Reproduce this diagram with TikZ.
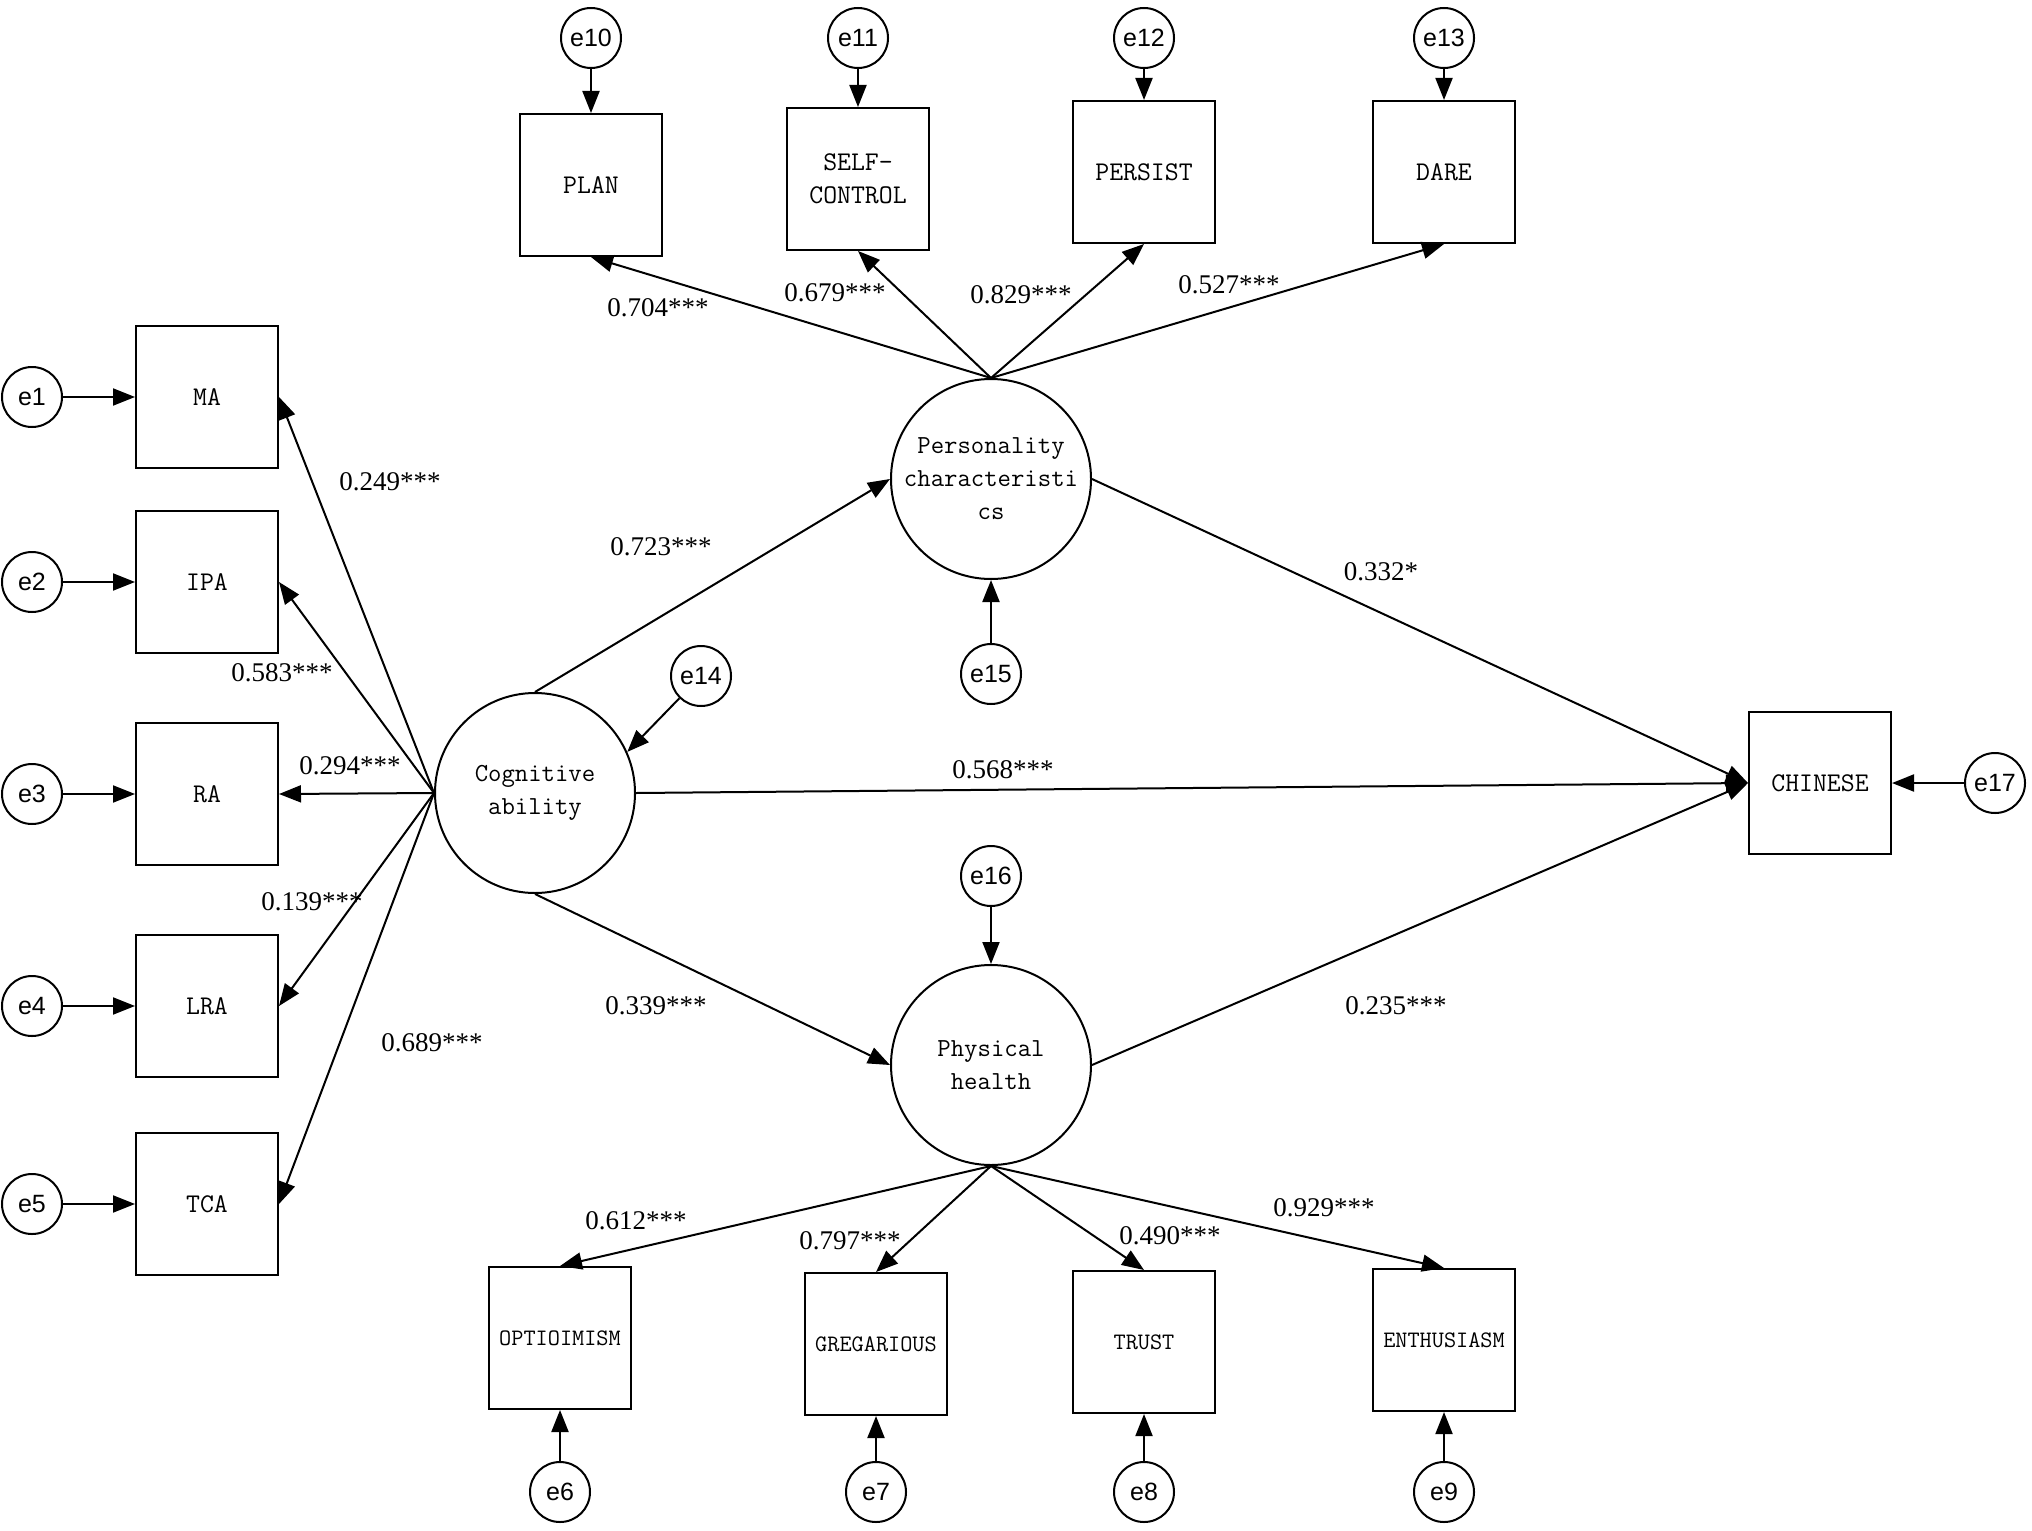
\documentclass[tikz,border=0pt]{standalone}
\usepackage{fontspec}
\usetikzlibrary{arrows.meta}
\newfontfamily\errfont{Liberation Sans}
\newfontfamily\coeffont{Liberation Serif}

\begin{document}
\begin{tikzpicture}[x=0.5pt,y=-0.5pt,
        line width=1pt,>={Triangle[length=11pt,width=8.5pt]},
        obs/.style={draw,rectangle,minimum width=71pt,minimum height=71pt,inner sep=1pt,align=center,font=\fontsize{13.5}{16.5}\selectfont\ttfamily},
        obsnarrow/.style={obs,font=\fontsize{11.8}{14}\selectfont\ttfamily},
        lat/.style={draw,circle,minimum size=100pt,inner sep=0pt,align=center,font=\fontsize{13}{16.5}\selectfont\ttfamily},
        err/.style={draw,circle,minimum size=30pt,inner sep=0pt,font=\fontsize{12.5}{14}\selectfont\errfont},
        coef/.style={inner sep=0pt,font=\fontsize{13.5}{15}\selectfont\coeffont}]

    \useasboundingbox (0,0) rectangle (2032,1530);

    \node[lat] (cog) at (535,793) {Cognitive\\ability};
    \node[lat] (pers) at (991,479) {Personality\\characteristi\\cs};
    \node[lat] (phys) at (991,1065) {Physical\\health};
    \node[obs] (chn) at (1820,783) {CHINESE};

    \node[obs] (ma) at (207,397) {MA};
    \node[obs] (ipa) at (207,582) {IPA};
    \node[obs] (ra) at (207,794) {RA};
    \node[obs] (lra) at (207,1006) {LRA};
    \node[obs] (tca) at (207,1204) {TCA};

    \node[obs] (plan) at (591,185) {PLAN};
    \node[obs] (selfc) at (858,179) {SELF-\\CONTROL};
    \node[obs] (persist) at (1144,172) {PERSIST};
    \node[obs] (dare) at (1444,172) {DARE};

    \node[obsnarrow] (opt) at (560,1338) {OPTIOIMISM};
    \node[obsnarrow] (greg) at (876,1344) {GREGARIOUS};
    \node[obsnarrow] (trust) at (1144,1342) {TRUST};
    \node[obsnarrow] (enth) at (1444,1340) {ENTHUSIASM};

    \node[err] (e1) at (32,397) {e1};
    \node[err] (e2) at (32,582) {e2};
    \node[err] (e3) at (32,794) {e3};
    \node[err] (e4) at (32,1006) {e4};
    \node[err] (e5) at (32,1204) {e5};
    \node[err] (e6) at (560,1492) {e6};
    \node[err] (e7) at (876,1492) {e7};
    \node[err] (e8) at (1144,1492) {e8};
    \node[err] (e9) at (1444,1492) {e9};
    \node[err] (e10) at (591,38) {e10};
    \node[err] (e11) at (858,38) {e11};
    \node[err] (e12) at (1144,38) {e12};
    \node[err] (e13) at (1444,38) {e13};
    \node[err] (e14) at (701,676) {e14};
    \node[err] (e15) at (991,674) {e15};
    \node[err] (e16) at (991,876) {e16};
    \node[err] (e17) at (1995,783) {e17};

    \draw[->] (e1) -- (ma);
    \draw[->] (e2) -- (ipa);
    \draw[->] (e3) -- (ra);
    \draw[->] (e4) -- (lra);
    \draw[->] (e5) -- (tca);
    \draw[->] (e6) -- (opt);
    \draw[->] (e7) -- (greg);
    \draw[->] (e8) -- (trust);
    \draw[->] (e9) -- (enth);
    \draw[->] (e10) -- (plan);
    \draw[->] (e11) -- (selfc);
    \draw[->] (e12) -- (persist);
    \draw[->] (e13) -- (dare);
    \draw[->] (e14) -- (cog.24);
    \draw[->] (e15) -- (pers);
    \draw[->] (e16) -- (phys);
    \draw[->] (e17) -- (chn);

    \draw[->] (cog.west) -- (ma.east);
    \draw[->] (cog.west) -- (ipa.east);
    \draw[->] (cog.west) -- (ra.east);
    \draw[->] (cog.west) -- (lra.east);
    \draw[->] (cog.west) -- (tca.east);

    \draw[->] (pers.north) -- (plan.south);
    \draw[->] (pers.north) -- (selfc.south);
    \draw[->] (pers.north) -- (persist.south);
    \draw[->] (pers.north) -- (dare.south);

    \draw[->] (phys.south) -- (opt.north);
    \draw[->] (phys.south) -- (greg.north);
    \draw[->] (phys.south) -- (trust.north);
    \draw[->] (phys.south) -- (enth.north);

    \draw[->] (cog.north) -- (pers.west);
    \draw[->] (cog.south) -- (phys.west);
    \draw[->] (cog.east) -- (chn.west);
    \draw[->] (pers.east) -- (chn.west);
    \draw[->] (phys.east) -- (chn.west);

    \node[coef] (c1) at (390,482) {0.249***};
    \node[coef] (c2) at (282,673) {0.583***};
    \node[coef] (c3) at (350,766) {0.294***};
    \node[coef] (c4) at (312,902) {0.139***};
    \node[coef] (c5) at (432,1043) {0.689***};
    \node[coef] (c6) at (661,547) {0.723***};
    \node[coef] (c7) at (656,1006) {0.339***};
    \node[coef] (c8) at (1003,770) {0.568***};
    \node[coef] (c9) at (1381,572) {0.332*};
    \node[coef] (c10) at (1396,1006) {0.235***};
    \node[coef] (c11) at (658,308) {0.704***};
    \node[coef] (c12) at (835,293) {0.679***};
    \node[coef] (c13) at (1021,295) {0.829***};
    \node[coef] (c14) at (1229,285) {0.527***};
    \node[coef] (c15) at (636,1221) {0.612***};
    \node[coef] (c16) at (850,1241) {0.797***};
    \node[coef] (c17) at (1170,1236) {0.490***};
    \node[coef] (c18) at (1324,1208) {0.929***};
\end{tikzpicture}
\end{document}
